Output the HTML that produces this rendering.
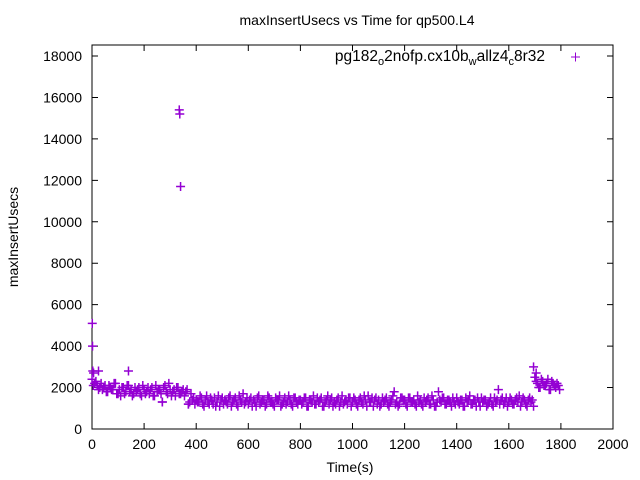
<!DOCTYPE html>
<html><head><meta charset="utf-8"><style>
body{margin:0;background:#fff}
svg{display:block;font-family:"Liberation Sans",Arial,sans-serif}
</style></head><body>
<svg id="chart" width="640" height="480">
<text x="357" y="25" text-anchor="middle" font-size="14">maxInsertUsecs vs Time for qp500.L4</text>
<text x="350" y="472" text-anchor="middle" font-size="14">Time(s)</text>
<text transform="translate(18,237) rotate(-90)" text-anchor="middle" font-size="14">maxInsertUsecs</text>
<g id="axes"></g>
<g id="marks"></g>
<g>
<text x="545" y="61" text-anchor="end" font-size="15.5">pg182<tspan font-size="11" dy="4">o</tspan><tspan dy="-4">2nofp.cx10b</tspan><tspan font-size="11" dy="4">w</tspan><tspan dy="-4">allz4</tspan><tspan font-size="11" dy="4">c</tspan><tspan dy="-4">8r32</tspan></text>
<path d="M571 57h9M575.5 52.5v9" stroke="#9400d3" stroke-width="1"/>
</g>
</svg>
<script>
const xTicks=[0,200,400,600,800,1000,1200,1400,1600,1800,2000];
const yTicks=[0,2000,4000,6000,8000,10000,12000,14000,16000,18000];
const values=[
2400,2200,2100,2000,1900,2100,1800,2000,1900,2200,1700,1600,2000,1800,2100,1900,1700,1800,2000,1600,
1900,1800,1700,2000,1600,1800,1900,1300,2100,1700,1900,1800,1600,2000,1700,1900,1800,1200,1700,1500,
1400,1300,1500,1100,1600,1200,1400,1500,1300,1100,1500,1400,1200,1600,1300,1500,1100,1400,1700,1300,
1200,1500,1400,1100,1600,1300,1400,1200,1500,1300,1100,1400,1600,1200,1500,1300,1400,1100,1500,1200,
1400,1300,1500,1100,1400,1600,1200,1300,1500,1100,1400,1200,1500,1300,1400,1100,1600,1300,1200,1500,
1300,1400,1100,1500,1200,1400,1600,1300,1100,1500,1400,1200,1300,1500,1100,1400,1800,1300,1200,1500,
1400,1100,1500,1300,1200,1600,1400,1100,1300,1500,1200,1400,1100,1800,1300,1500,1200,1400,1100,1300,
1500,1200,1400,1100,1300,1600,1200,1400,1500,1100,1300,1400,1200,1500,1100,1300,1900,1400,1200,1500,
1300,1400,1200,1500,1600,1300,1400,1100,1500,1400,2500,2200,2000,2300,2100,2400,1900,2200,2000,2100];
const valuesB=[
2100,2300,1900,2200,2000,1800,2100,1900,2200,1700,1900,2000,1700,2100,1800,1600,2000,1900,1700,2100,
1700,2000,1900,1600,2100,1900,1700,2000,1800,2200,1600,1900,2000,1700,1800,1600,1900,1300,1400,1200,
1300,1600,1200,1400,1300,1500,1200,1100,1600,1400,1200,1300,1500,1100,1400,1200,1600,1300,1200,1500,
1400,1100,1300,1500,1200,1400,1100,1600,1300,1200,1500,1400,1100,1300,1200,1600,1200,1500,1300,1400,
1200,1500,1100,1400,1300,1200,1500,1400,1100,1300,1600,1400,1100,1200,1500,1300,1200,1400,1500,1100,
1500,1200,1400,1300,1600,1100,1300,1500,1400,1200,1100,1500,1400,1200,1300,1600,1200,1100,1500,1400,
1200,1500,1300,1400,1100,1300,1200,1500,1400,1200,1600,1100,1300,1400,1500,1200,1400,1300,1500,1200,
1300,1400,1100,1500,1400,1200,1400,1100,1300,1500,1400,1100,1300,1200,1500,1400,1200,1500,1300,1100,
1500,1200,1400,1300,1100,1500,1200,1400,1300,1100,2300,2000,2400,2100,2200,1900,2300,2100,2200,1900];
const stepSec=10;
const extraTimes=[1,2,3,6,25,140,335,337,340,1695,1705,270,370];
const extraValues=[5100,4000,2800,2700,2800,2800,15400,15200,11700,3000,2700,1300,1200];
const X0=92,X1=613,Y0=429,YTOP=45;
const xs=t=>X0+t*(X1-X0)/2000;
const ys=v=>Y0-v*373/18000;
const NS="http://www.w3.org/2000/svg";
const axes=document.getElementById('axes');
const frame=document.createElementNS(NS,'rect');
frame.setAttribute('x',X0);frame.setAttribute('y',YTOP);frame.setAttribute('width',X1-X0);frame.setAttribute('height',Y0-YTOP);
frame.setAttribute('fill','none');frame.setAttribute('stroke','#000');


axes.appendChild(frame);
xTicks.forEach(t=>{
 const x=xs(t);
 const p=document.createElementNS(NS,'path');
 p.setAttribute('d',`M${x} ${Y0}v-6M${x} ${YTOP}v6`);p.setAttribute('stroke','#000');
 
 
 axes.appendChild(p);
 const tx=document.createElementNS(NS,'text');
 tx.setAttribute('x',x);tx.setAttribute('y',449);tx.setAttribute('text-anchor','middle');tx.setAttribute('font-size','14');
 tx.textContent=t;
 
 
 axes.appendChild(tx);
});
yTicks.forEach(v=>{
 const y=ys(v);
 const p=document.createElementNS(NS,'path');
 p.setAttribute('d',`M${X0} ${y}h6M${X1} ${y}h-6`);p.setAttribute('stroke','#000');
 
 
 axes.appendChild(p);
 const tx=document.createElementNS(NS,'text');
 tx.setAttribute('x',82);tx.setAttribute('y',y+5);tx.setAttribute('text-anchor','end');tx.setAttribute('font-size','14');
 tx.textContent=v;
 
 
 axes.appendChild(tx);
});
const marks=document.getElementById('marks');
function plus(t,v){
 const x=xs(t),y=ys(v);
 const p=document.createElementNS(NS,'path');
 p.setAttribute('d',`M${x-4.5} ${y}h9M${x} ${y-4.5}v9`);
 p.setAttribute('stroke','#9400d3');p.setAttribute('stroke-width','1.5');
 
 
 marks.appendChild(p);
}
values.forEach((v,i)=>plus(i*stepSec,v));
valuesB.forEach((v,i)=>plus(i*stepSec+5,v));
extraTimes.forEach((t,i)=>plus(t,extraValues[i]));
</script>
</body></html>
